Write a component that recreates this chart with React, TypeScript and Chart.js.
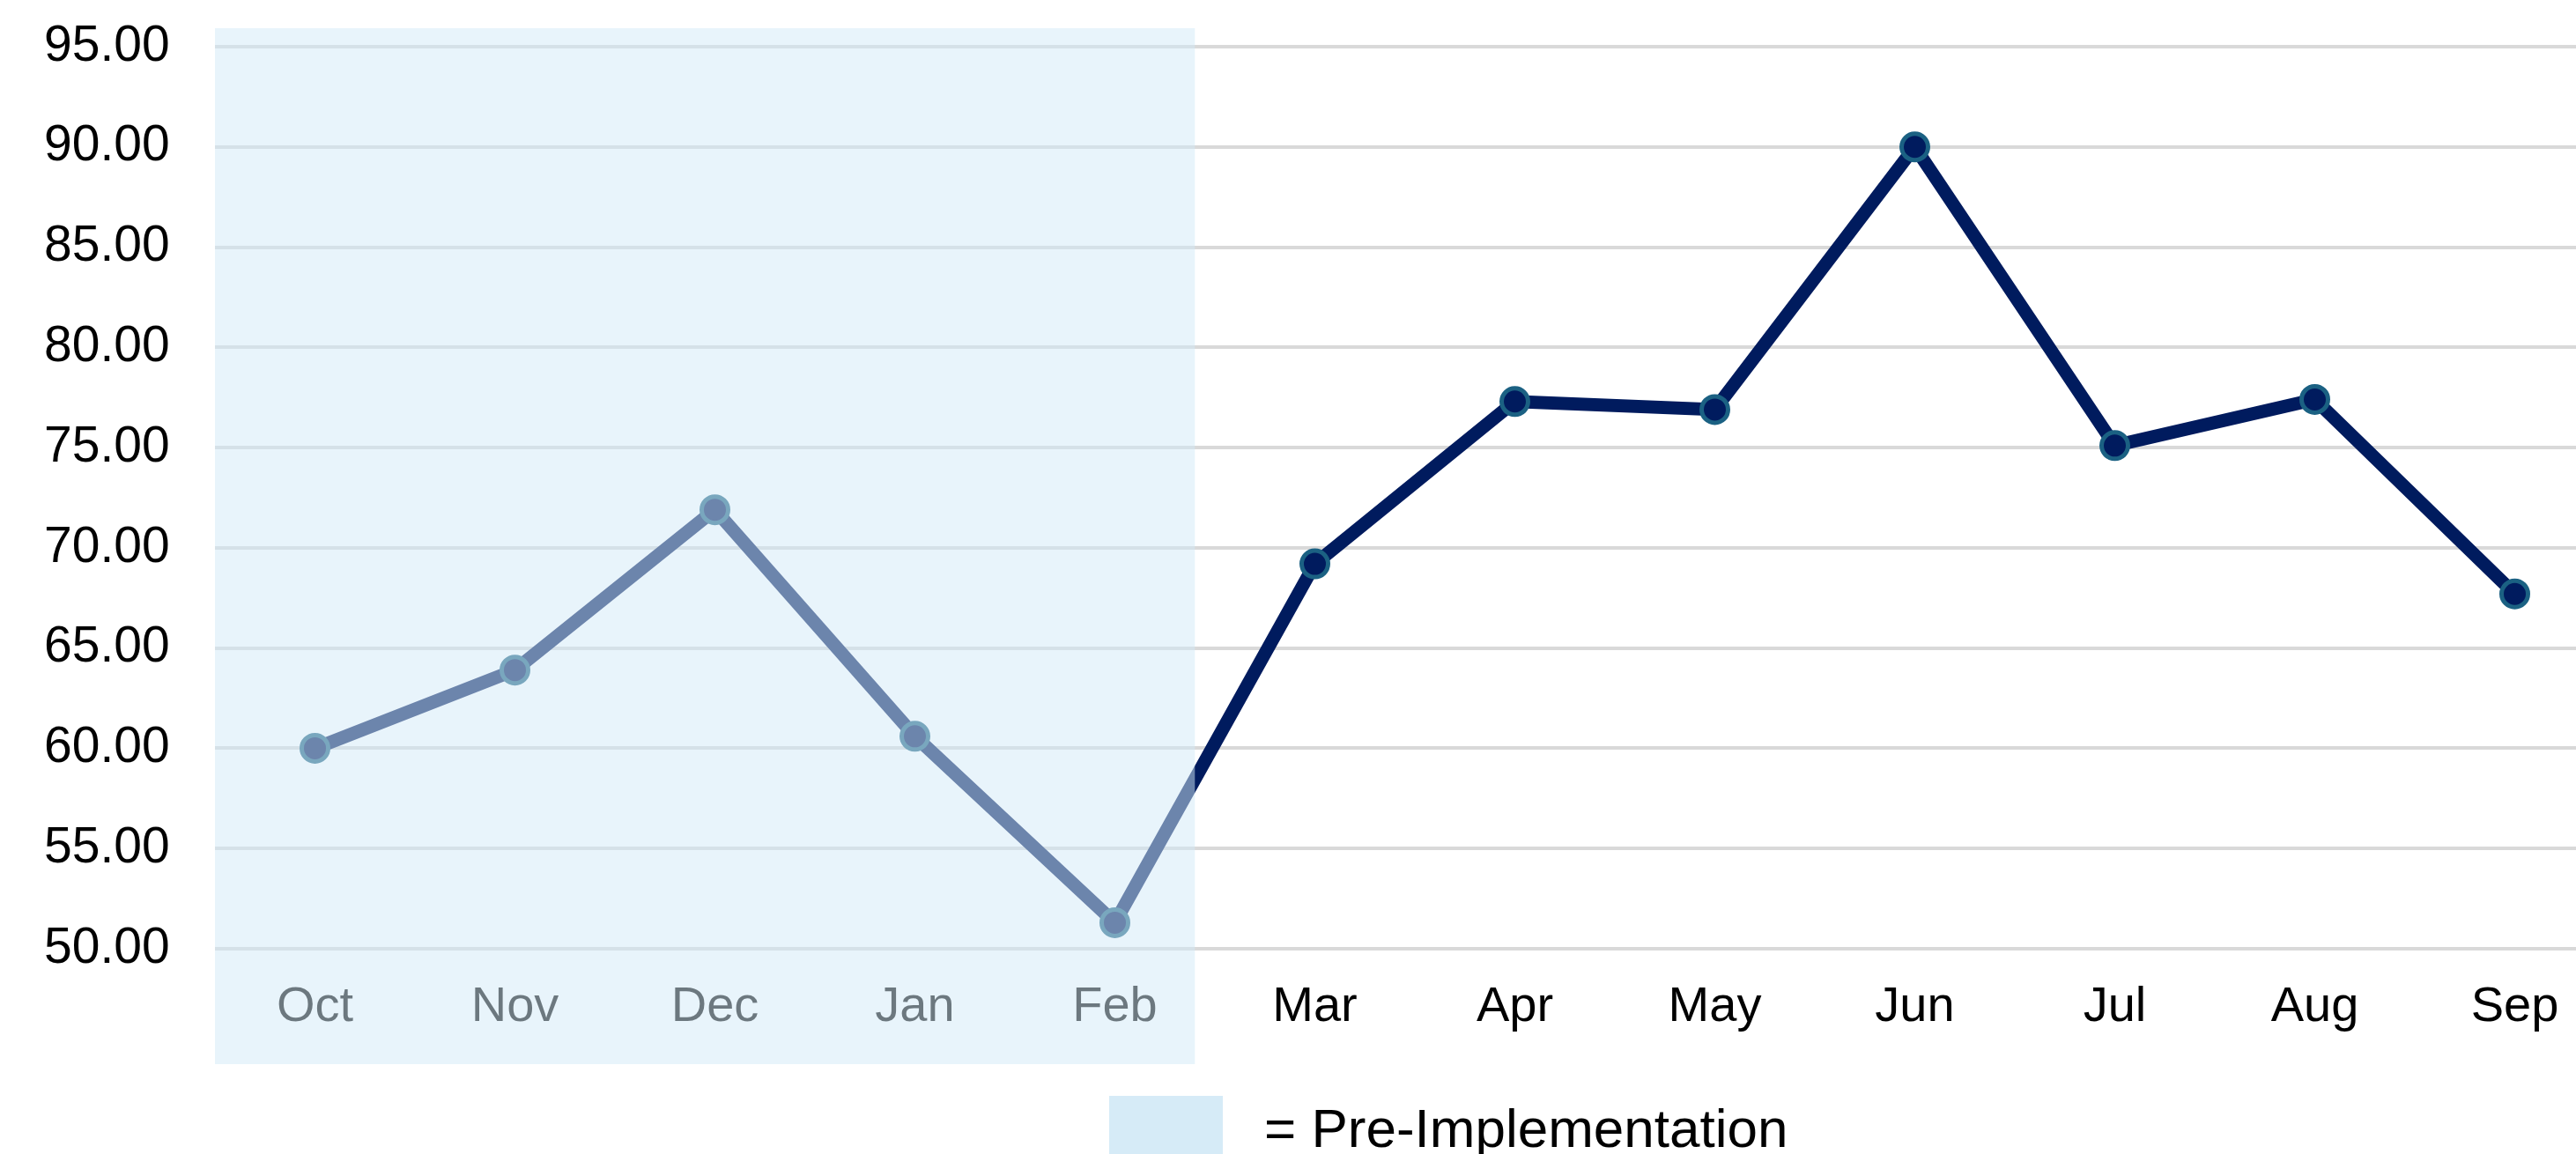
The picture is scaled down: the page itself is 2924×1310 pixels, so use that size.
import React, { useEffect, useRef } from "react";
import { Chart, registerables } from "chart.js";

Chart.register(...registerables);

const months = ["Oct", "Nov", "Dec", "Jan", "Feb", "Mar", "Apr", "May", "Jun", "Jul", "Aug", "Sep"];
const scores = [60.0, 63.9, 71.9, 60.6, 51.3, 69.2, 77.3, 76.9, 90.0, 75.1, 77.4, 67.7];
const preImplementationMonths = ["Oct", "Nov", "Dec", "Jan", "Feb"];
const yMin = 50;
const yMax = 95;
const yStep = 5;
const legendLabel = "= Pre-Implementation";

const FONT = "'Liberation Sans', Arial, sans-serif";

const overlayPlugin = {
  id: "preImplOverlay",
  afterDraw(chart: any) {
    const { ctx, chartArea } = chart;
    const x = chart.scales.x;
    const lastPre = preImplementationMonths.length - 1;
    const xLast = x.getPixelForValue(lastPre);
    const xNext = x.getPixelForValue(lastPre + 1);
    const right = xLast + 0.4 * (xNext - xLast);
    const top = chartArea.top - 21;
    const bottom = chartArea.bottom + 131;
    ctx.save();
    ctx.fillStyle = "rgba(210,233,247,0.514)";
    ctx.fillRect(chartArea.left, top, right - chartArea.left, bottom - top);
    // legend
    ctx.fillStyle = "rgb(214,235,247)";
    ctx.fillRect(1259, 1244, 129, 66);
    ctx.fillStyle = "#000";
    ctx.font = `62px ${FONT}`;
    ctx.textAlign = "left";
    ctx.textBaseline = "alphabetic";
    ctx.fillText(legendLabel, 1435, 1302);
    ctx.restore();
  },
};

export default function App() {
  const ref = useRef<HTMLCanvasElement>(null);
  useEffect(() => {
    if (!ref.current) return;
    const chart = new Chart(ref.current, {
      type: "line",
      data: {
        labels: months,
        datasets: [
          {
            data: scores,
            borderColor: "#001b5e",
            borderWidth: 15,
            backgroundColor: "#001b5e",
            pointBackgroundColor: "#001b5e",
            pointBorderColor: "#1b6183",
            pointBorderWidth: 5,
            pointRadius: 15,
            tension: 0,
            fill: false,
          },
        ],
      },
      options: {
        responsive: false,
        animation: false,
        devicePixelRatio: 1,
        layout: { padding: { top: 53, left: 50, right: 0, bottom: 0 } },
        plugins: { legend: { display: false }, tooltip: { enabled: false } },
        scales: {
          x: {
            offset: true,
            grid: { display: false, drawTicks: false },
            border: { display: false },
            ticks: { color: "#000", font: { family: FONT, size: 56 }, padding: 33, maxRotation: 0 },
            afterFit(scale: any) {
              scale.height = 233;
            },
          },
          y: {
            min: yMin,
            max: yMax,
            grid: { color: "#d9d9d9", lineWidth: 4, drawTicks: false },
            border: { display: false },
            ticks: {
              stepSize: yStep,
              color: "#000",
              font: { family: FONT, size: 57 },
              padding: 0,
              crossAlign: "far",
              callback: (v: any) => Number(v).toFixed(2),
            },
            afterFit(scale: any) {
              scale.width = 194;
            },
          },
        },
      },
      plugins: [overlayPlugin],
    });
    return () => chart.destroy();
  }, []);
  return (
    <div style={{ position: "absolute", left: 0, top: 0, width: 2924, height: 1310, overflow: "hidden", background: "#fff" }}>
      <canvas ref={ref} width={2988} height={1310} style={{ display: "block", width: 2988, height: 1310 }} />
    </div>
  );
}
